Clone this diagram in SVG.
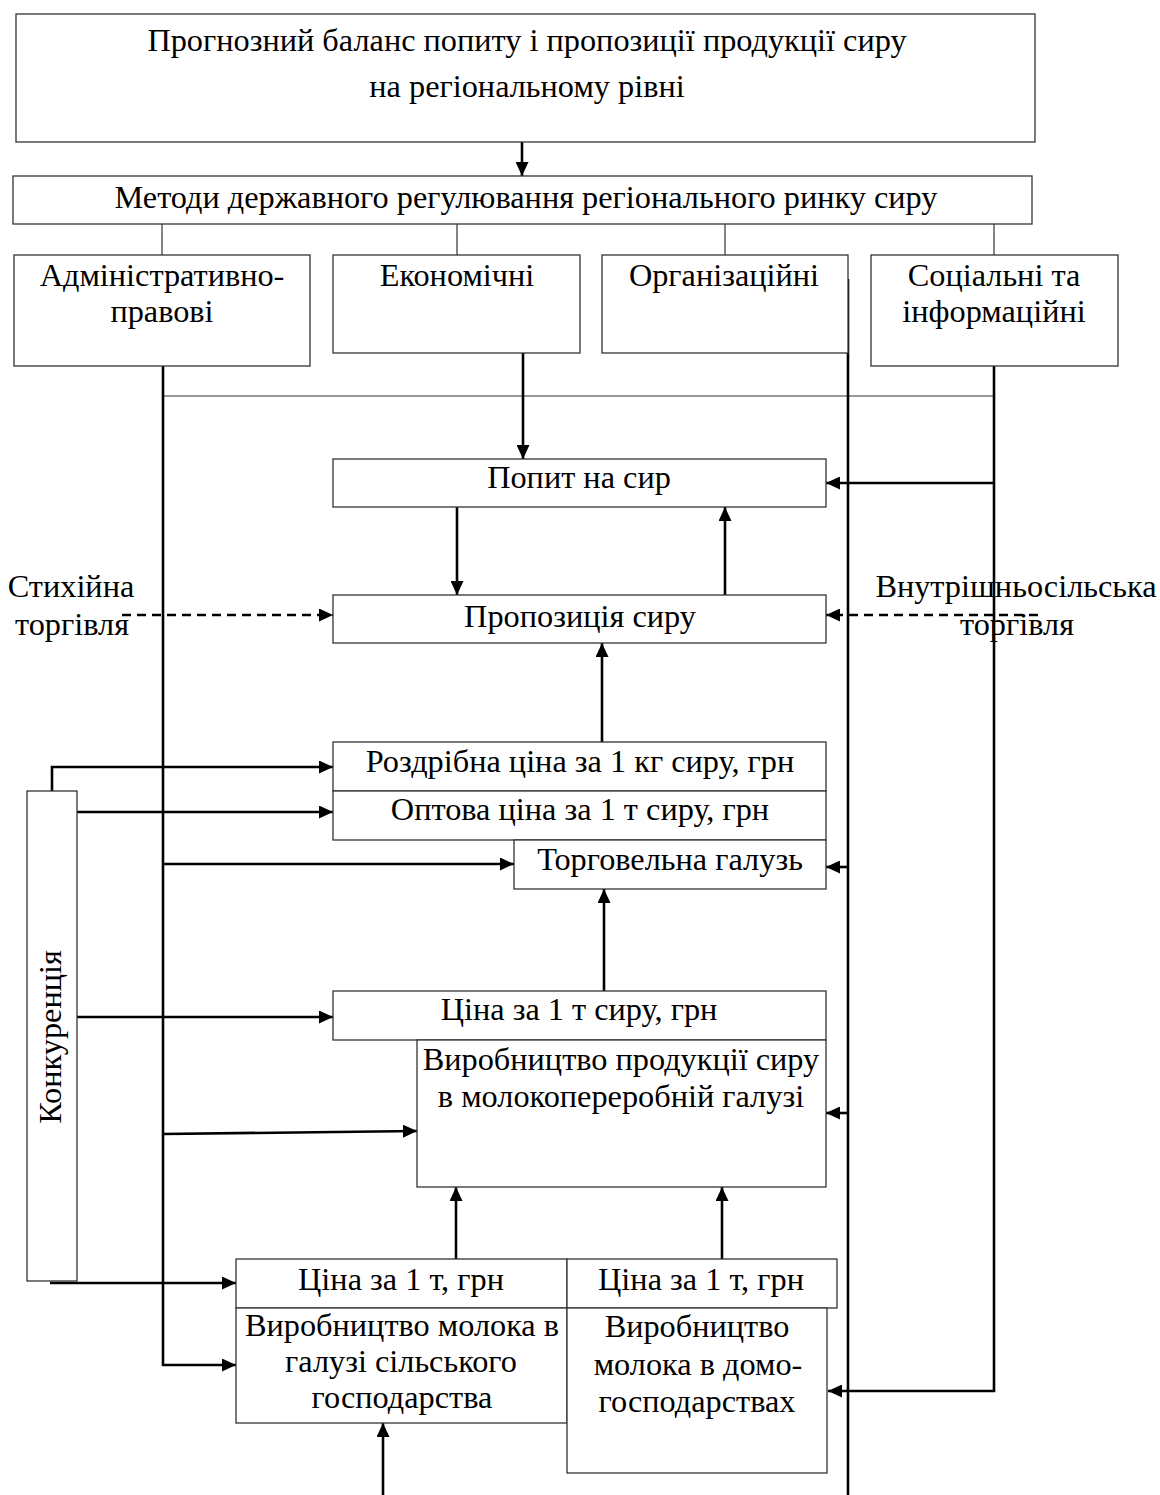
<svg xmlns="http://www.w3.org/2000/svg" width="1160" height="1495" viewBox="0 0 1160 1495">
<style>
.box{fill:#fff;stroke:#333;stroke-width:1.3}
.t{font-family:"Liberation Serif","Times New Roman",serif;font-size:32.3px;fill:#000;text-anchor:middle}
.thin{stroke:#333;stroke-width:1.2;fill:none}
.c{stroke:#000;stroke-width:2.6;fill:none}
.a{stroke:#000;stroke-width:2.6;fill:none;marker-end:url(#ah)}
.d{stroke:#000;stroke-width:2.6;fill:none;stroke-dasharray:9 6;marker-end:url(#ah)}
</style>
<defs>
<marker id="ah" viewBox="0 0 14 13" markerWidth="14" markerHeight="13" refX="14" refY="6.5" orient="auto" markerUnits="userSpaceOnUse">
<path d="M0,0 L14,6.5 L0,13 z" fill="#000"/>
</marker>
</defs>
<rect width="1160" height="1495" fill="#fff"/>

<g id="connectors">
<line class="a" x1="522" y1="142" x2="522" y2="176"/>
<line class="thin" x1="162" y1="224" x2="162" y2="255"/>
<line class="thin" x1="457" y1="224" x2="457" y2="255"/>
<line class="thin" x1="725" y1="224" x2="725" y2="255"/>
<line class="thin" x1="994" y1="224" x2="994" y2="255"/>
<line class="thin" x1="163" y1="396" x2="994" y2="396"/>
<line class="a" x1="523" y1="353" x2="523" y2="459"/>
<line class="a" x1="457" y1="507" x2="457" y2="595"/>
<line class="a" x1="725" y1="595" x2="725" y2="507"/>
<line class="a" x1="602" y1="742" x2="602" y2="643"/>
<line class="a" x1="604" y1="991" x2="604" y2="889"/>
<line class="a" x1="456" y1="1259" x2="456" y2="1187"/>
<line class="a" x1="722" y1="1259" x2="722" y2="1187"/>
<line class="a" x1="383" y1="1495" x2="383" y2="1423"/>
<path class="a" d="M163,366 V1365 H236"/>
<line class="a" x1="163" y1="864" x2="514" y2="864"/>
<line class="a" x1="163" y1="1134" x2="417" y2="1131"/>
<path class="a" d="M994,366 V1391 H828"/>
<line class="a" x1="994" y1="483" x2="826" y2="483"/>
<line class="c" x1="848" y1="279" x2="848" y2="1495"/>
<line class="a" x1="848" y1="867" x2="826" y2="867"/>
<line class="a" x1="848" y1="1113" x2="826" y2="1113"/>
<path class="a" d="M52,791 V767 H333"/>
<line class="a" x1="77" y1="812" x2="333" y2="812"/>
<line class="a" x1="77" y1="1017" x2="333" y2="1017"/>
<line class="a" x1="50" y1="1283" x2="236" y2="1283"/>
<line class="d" x1="122" y1="615" x2="333" y2="615"/>
<line class="d" x1="1038" y1="615" x2="826" y2="615"/>
</g>

<g id="forecast">
<rect class="box" x="16" y="14" width="1019" height="128"/>
<text class="t" x="527" y="51">Прогнозний баланс попиту і пропозиції продукції сиру</text>
<text class="t" x="527" y="97">на регіональному рівні</text>
</g>
<g id="methods">
<rect class="box" x="13" y="176" width="1019" height="48"/>
<text class="t" x="526" y="208">Методи державного регулювання регіонального ринку сиру</text>
</g>
<g id="admin">
<rect class="box" x="14" y="255" width="296" height="111"/>
<text class="t" x="162" y="286">Адміністративно-</text>
<text class="t" x="162" y="322">правові</text>
</g>
<g id="econ">
<rect class="box" x="333" y="255" width="247" height="98"/>
<text class="t" x="457" y="286">Економічні</text>
</g>
<g id="org">
<rect class="box" x="602" y="255" width="246" height="98"/>
<text class="t" x="724" y="286">Організаційні</text>
</g>
<g id="social">
<rect class="box" x="871" y="255" width="247" height="111"/>
<text class="t" x="994" y="286">Соціальні та</text>
<text class="t" x="994" y="322">інформаційні</text>
</g>
<g id="demand">
<rect class="box" x="333" y="459" width="493" height="48"/>
<text class="t" x="579" y="488">Попит на сир</text>
</g>
<g id="supply">
<rect class="box" x="333" y="595" width="493" height="48"/>
<text class="t" x="580" y="627">Пропозиція сиру</text>
</g>
<g id="spontaneous">
<text class="t" x="71" y="597">Стихійна</text>
<text class="t" x="72" y="635">торгівля</text>
</g>
<g id="intravillage">
<text class="t" x="1016" y="597">Внутрішньосільська</text>
<text class="t" x="1017" y="635">торгівля</text>
</g>
<g id="retail">
<rect class="box" x="333" y="742" width="493" height="49"/>
<text class="t" x="580" y="772">Роздрібна ціна за 1 кг сиру, грн</text>
</g>
<g id="wholesale">
<rect class="box" x="333" y="791" width="493" height="49"/>
<text class="t" x="580" y="820">Оптова ціна за 1 т сиру, грн</text>
</g>
<g id="trade">
<rect class="box" x="514" y="840" width="312" height="49"/>
<text class="t" x="670" y="870">Торговельна галузь</text>
</g>
<g id="competition">
<rect class="box" x="27" y="791" width="50" height="490"/>
<text class="t" transform="translate(61,1037) rotate(-90)">Конкуренція</text>
</g>
<g id="cheese-price">
<rect class="box" x="333" y="991" width="493" height="49"/>
<text class="t" x="579" y="1020">Ціна за 1 т сиру, грн</text>
</g>
<g id="cheese-production">
<rect class="box" x="417" y="1040" width="409" height="147"/>
<text class="t" x="621" y="1070">Виробництво продукції сиру</text>
<text class="t" x="621" y="1107">в молокопереробній галузі</text>
</g>
<g id="milk-price-agri">
<rect class="box" x="236" y="1259" width="331" height="49"/>
<text class="t" x="401" y="1290">Ціна за 1 т, грн</text>
</g>
<g id="milk-price-house">
<rect class="box" x="567" y="1259" width="270" height="49"/>
<text class="t" x="701" y="1290">Ціна за 1 т, грн</text>
</g>
<g id="milk-agri">
<rect class="box" x="236" y="1308" width="331" height="115"/>
<text class="t" x="402" y="1336">Виробництво молока в</text>
<text class="t" x="401" y="1372">галузі сільського</text>
<text class="t" x="402" y="1408">господарства</text>
</g>
<g id="milk-house">
<rect class="box" x="567" y="1308" width="260" height="165"/>
<text class="t" x="697" y="1337">Виробництво</text>
<text class="t" x="698" y="1375">молока в домо-</text>
<text class="t" x="697" y="1412">господарствах</text>
</g>
</svg>
